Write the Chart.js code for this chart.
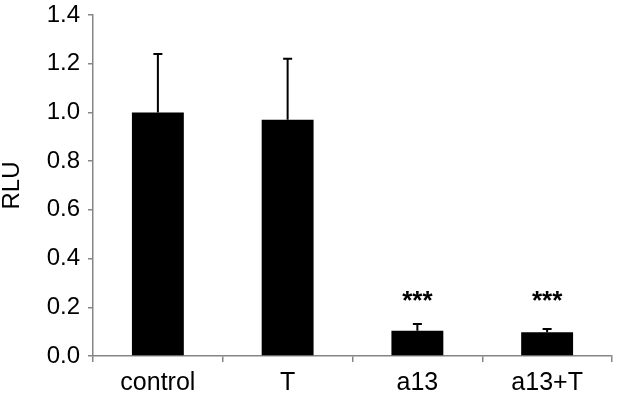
<!DOCTYPE html>
<html>
<head>
<meta charset="utf-8">
<script src="https://cdn.jsdelivr.net/npm/chart.js@4"></script>
<style>
  html, body { margin: 0; padding: 0; background: #fff; }
  #wrap { width: 617px; height: 398px; }
</style>
</head>
<body>
<div id="wrap"><canvas id="chart" width="617" height="398"></canvas></div>
<script>
// data
const groups   = ["control", "T", "a13", "a13+T"];
const rlu      = [1.0, 0.97, 0.104, 0.097];
const rluErr   = [0.24, 0.25, 0.027, 0.014];
const sigMarks = ["", "", "***", "***"];
const sigLevel = 0.24;          // y value where the stars sit
const yTicks   = [0, 0.2, 0.4, 0.6, 0.8, 1.0, 1.2, 1.4];

const FONT = "'Liberation Sans', Arial, sans-serif";
const AXIS = "#858585";

// one-sided error bars + significance stars
const errorBars = {
  id: "errorBars",
  afterDatasetsDraw(chart) {
    const ctx  = chart.ctx;
    const y    = chart.scales.y;
    const meta = chart.getDatasetMeta(0);
    ctx.save();
    ctx.strokeStyle = "#000";
    ctx.lineWidth   = 2;
    meta.data.forEach((bar, i) => {
      const top = y.getPixelForValue(rlu[i] + rluErr[i]);
      ctx.beginPath();
      ctx.moveTo(bar.x, bar.y);
      ctx.lineTo(bar.x, top);
      ctx.moveTo(bar.x - 4.5, top);
      ctx.lineTo(bar.x + 4.5, top);
      ctx.stroke();

      if (sigMarks[i]) {
        ctx.fillStyle    = "#000";
        ctx.font         = "bold 26px " + FONT;
        ctx.textAlign    = "center";
        ctx.textBaseline = "middle";
        ctx.fillText(sigMarks[i], bar.x, y.getPixelForValue(sigLevel) + 4);
      }
    });
    ctx.restore();
  }
};

const chart = new Chart(document.getElementById("chart").getContext("2d"), {
  type: "bar",
  data: {
    labels: groups,
    datasets: [{
      label: "RLU",
      data: rlu,
      backgroundColor: "#000",
      borderWidth: 0,
      barPercentage: 0.4,
      categoryPercentage: 1.0
    }]
  },
  options: {
    responsive: false,
    animation: false,
    layout: { padding: { top: 15, right: 5, bottom: 0, left: 0 } },
    plugins: {
      legend: { display: false },
      tooltip: { enabled: false }
    },
    scales: {
      x: {
        afterFit: s => { s.height = 42; },
        border: { color: AXIS, width: 1.5 },
        grid: {
          offset: true,
          drawOnChartArea: false,
          drawTicks: true,
          tickLength: 6,
          color: AXIS,
          lineWidth: 1.5
        },
        ticks: {
          color: "#000",
          padding: 6,
          font: { family: FONT, size: 25 },
          maxRotation: 0
        }
      },
      y: {
        min: 0,
        max: 1.4,
        afterFit: s => { s.width = 93; s.paddingTop = 0; s.paddingBottom = 0; },
        afterBuildTicks: s => { s.ticks = yTicks.map(v => ({ value: v })); },
        border: { color: AXIS, width: 1.5 },
        grid: {
          drawOnChartArea: false,
          drawTicks: true,
          tickLength: 5,
          color: AXIS,
          lineWidth: 1.5
        },
        ticks: {
          color: "#000",
          padding: 8,
          font: { family: FONT, size: 24 },
          callback: v => v.toFixed(1)
        },
        title: {
          display: true,
          text: "RLU",
          color: "#000",
          padding: { top: 0, bottom: 0 },
          font: { family: FONT, size: 24, lineHeight: 1.0 }
        }
      }
    }
  },
  plugins: [errorBars]
});
</script>
</body>
</html>
